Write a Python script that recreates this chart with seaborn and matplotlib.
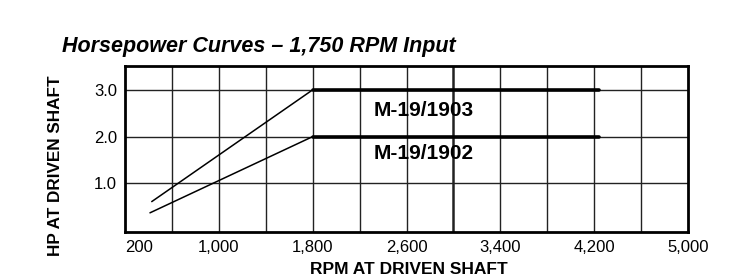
import matplotlib
matplotlib.use("Agg")
import matplotlib.pyplot as plt
import seaborn as sns
import pandas as pd

# Data
series = ["M-19/1903", "M-19/1902"]
start_rpm = [428, 413]
knee_rpm = [1800, 1800]
end_rpm = [4240, 4240]
start_hp = [0.61, 0.37]
rated_hp = [3.0, 2.0]
label_rpm = [2316, 2316]
label_hp = [2.56, 1.64]

x_ticks = [200, 1000, 1800, 2600, 3400, 4200, 5000]
x_tick_labels = ["200", "1,000", "1,800", "2,600", "3,400", "4,200", "5,000"]
y_ticks = [1.0, 2.0, 3.0]
y_tick_labels = ["1.0", "2.0", "3.0"]
x_grid = [600, 1000, 1400, 1800, 2200, 2600, 3000, 3400, 3800, 4200, 4600]

sns.set_theme(style="white")
plt.rcParams["font.family"] = ["Liberation Sans", "DejaVu Sans"]

fig = plt.figure(figsize=(7.55, 2.79), dpi=100)
ax = fig.add_axes([125 / 755, 1 - 232 / 279, 563 / 755, 166 / 279])

for xg in x_grid:
    lw = 1.8 if xg == 3000 else 1.0
    ax.axvline(xg, color="#222222", lw=lw, zorder=1)
for yg in y_ticks:
    ax.axhline(yg, color="#222222", lw=1.0, zorder=1)

for i, name in enumerate(series):
    slope = pd.DataFrame({"rpm": [start_rpm[i], knee_rpm[i]],
                          "hp": [start_hp[i], rated_hp[i]]})
    flat = pd.DataFrame({"rpm": [knee_rpm[i], end_rpm[i]],
                         "hp": [rated_hp[i], rated_hp[i]]})
    sns.lineplot(data=slope, x="rpm", y="hp", ax=ax, color="black", lw=1.1,
                 zorder=3, legend=False)
    sns.lineplot(data=flat, x="rpm", y="hp", ax=ax, color="black", lw=2.6,
                 zorder=3, legend=False)
    ax.text(label_rpm[i], label_hp[i], name, fontsize=15, fontweight="bold",
            ha="left", va="center", color="black", zorder=4)

ax.set_xlim(200, 5000)
ax.set_ylim(-0.04, 3.51)
ax.set_xticks(x_ticks)
ax.set_xticklabels(x_tick_labels, fontsize=12)
ax.get_xticklabels()[0].set_horizontalalignment("left")
ax.set_yticks(y_ticks)
ax.set_yticklabels(y_tick_labels, fontsize=12)
ax.tick_params(axis="both", length=0, colors="black")
ax.tick_params(axis="x", pad=5.5)
ax.tick_params(axis="y", pad=5.8)

for s in ax.spines.values():
    s.set_visible(True)
    s.set_color("black")
    s.set_linewidth(2.0)

ax.set_xlabel("RPM AT DRIVEN SHAFT", fontsize=12.5, fontweight="bold",
              color="black")
ax.xaxis.set_label_coords((409 - 125) / 563, (232 - 270) / 166)
ax.xaxis.label.set_va("center")
ax.set_ylabel("HP AT DRIVEN SHAFT", fontsize=12.3, fontweight="bold",
              color="black")
ax.yaxis.set_label_coords((55 - 125) / 563, (232 - 166) / 166)
ax.yaxis.label.set_va("center")

fig.text(62 / 755, 1 - 51.7 / 279, "Horsepower Curves \u2013 1,750 RPM Input",
         fontsize=15.5, fontweight="bold", fontstyle="italic", ha="left",
         va="baseline", color="black")

fig.savefig("out.png", dpi=100, facecolor="white")
